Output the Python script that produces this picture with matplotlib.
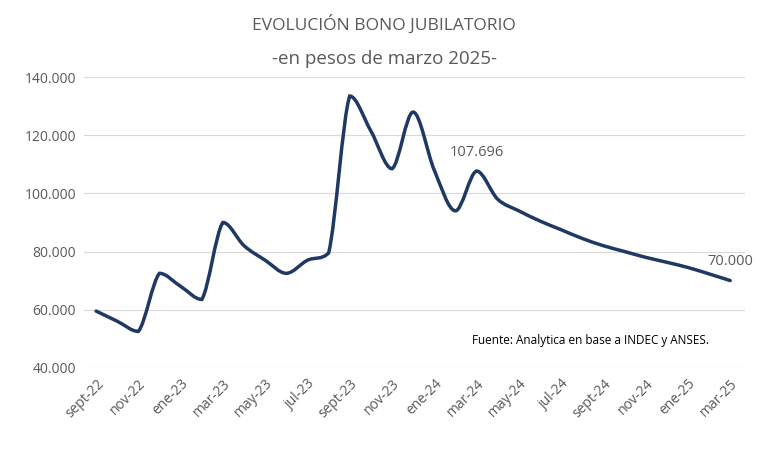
import matplotlib
matplotlib.use("Agg")
import matplotlib.pyplot as plt
from matplotlib.path import Path
from matplotlib.patches import PathPatch
import numpy as np

months = ["sept-22","oct-22","nov-22","dic-22","ene-23","feb-23","mar-23","abr-23","may-23","jun-23",
          "jul-23","ago-23","sept-23","oct-23","nov-23","dic-23","ene-24","feb-24","mar-24","abr-24",
          "may-24","jun-24","jul-24","ago-24","sept-24","oct-24","nov-24","dic-24","ene-25","feb-25","mar-25"]
values = [59500,56000,52500,72500,68000,63500,90000,82000,77000,72500,
          77000,79500,133500,121500,108500,128000,108000,94000,107696,98000,
          94000,90500,87500,84500,82000,80000,78000,76300,74500,72300,70000]
tick_labels = months[::2]
yticks = [40000,60000,80000,100000,120000,140000]

plt.rcParams["font.family"] = "Open Sans"
fig, ax = plt.subplots(figsize=(7.68,4.54), dpi=100)
fig.subplots_adjust(left=0.11, right=0.97, top=0.83, bottom=0.19)

x = np.arange(len(values), dtype=float)
y = np.array(values, dtype=float)
verts = [(x[0], y[0])]; codes = [Path.MOVETO]
for i in range(len(x)-1):
    p0 = (x[i-1], y[i-1]) if i > 0 else (x[i], y[i])
    p1 = (x[i], y[i]); p2 = (x[i+1], y[i+1])
    p3 = (x[i+2], y[i+2]) if i+2 < len(x) else p2
    lo, hi = min(p1[1], p2[1]), max(p1[1], p2[1])
    c1y = min(max(p1[1] + (p2[1]-p0[1])/6, lo), hi)
    c2y = min(max(p2[1] - (p3[1]-p1[1])/6, lo), hi)
    c1 = (p1[0] + (p2[0]-p0[0])/6, c1y)
    c2 = (p2[0] - (p3[0]-p1[0])/6, c2y)
    verts += [c1, c2, p2]; codes += [Path.CURVE4]*3
ax.add_patch(PathPatch(Path(verts, codes), fill=False, edgecolor="#1f3864", lw=2.5, capstyle="round"))

ax.set_xlim(-0.55, len(x)-0.3)
ax.set_ylim(40000, 140000)
ax.set_yticks(yticks)
ax.set_yticklabels([f"{v:,}".replace(",", ".") for v in yticks], color="#595959", fontsize=10)
ax.set_xticks(x[::2])
ax.set_xticklabels(tick_labels, rotation=45, ha="right", rotation_mode="anchor", color="#595959", fontsize=10)
ax.grid(axis="y", color="#d9d9d9", lw=0.8)
ax.set_axisbelow(True)
for s in ax.spines.values():
    s.set_visible(False)
ax.tick_params(length=0, pad=6)

ax.annotate("107.696", (18, values[18]), xytext=(0, 8), textcoords="offset points",
            ha="center", va="bottom", color="#595959", fontsize=10.5)
ax.annotate("70.000", (30, values[30]), xytext=(0, 8), textcoords="offset points",
            ha="center", va="bottom", color="#595959", fontsize=10.5)
ax.text(0.945, 0.095, "Fuente: Analytica en base a INDEC y ANSES.", transform=ax.transAxes,
        ha="right", va="center", fontsize=8.5, color="#000000")
fig.text(0.5, 0.935, "EVOLUCIÓN BONO JUBILATORIO", ha="center", fontsize=12.5, color="#595959")
fig.text(0.5, 0.86, "-en pesos de marzo 2025-", ha="center", fontsize=13.5, color="#595959")
fig.savefig("out.png", dpi=100)
